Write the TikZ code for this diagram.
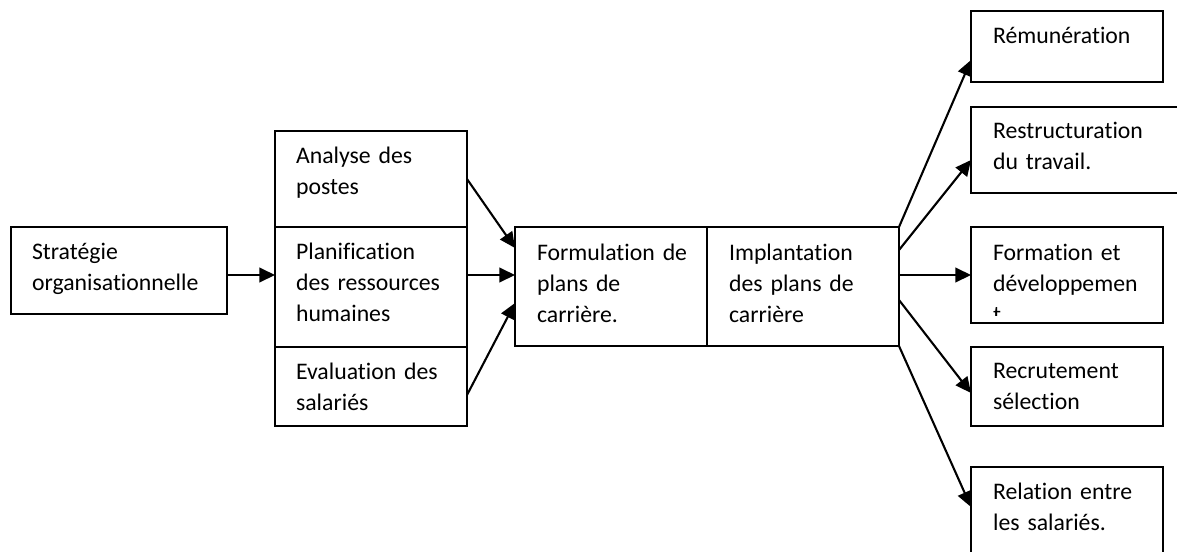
\documentclass[tikz,border=0pt]{standalone}
\usepackage{fontspec}
\setmainfont{Carlito}[Ligatures=NoCommon]
\usetikzlibrary{arrows.meta}
\newcommand{\pxu}{0.48pt}

\begin{document}
\begin{tikzpicture}[x=0.48pt, y=-0.48pt, line width=1pt]
            \tikzstyle{box} = [draw=black, anchor=north west, inner sep=0, outer sep=0]
            \tikzstyle{txt} = [anchor=base west, inner sep=0, text width=185*\pxu, align=left, font=\fontsize{11.4}{15.1}\selectfont]
            \tikzstyle{flow} = [-{Triangle[length=7.5pt, width=7pt]}]
            \clip (0,0) rectangle (1177,551);

            \node [box, minimum width=216*\pxu, minimum height=87*\pxu] (strat) at (11,227) {};

            \node [box, minimum width=192*\pxu, minimum height=96*\pxu] (analyse) at (275,131) {};
            \node [box, minimum width=192*\pxu, minimum height=120*\pxu] (planif) at (275,227) {};
            \node [box, minimum width=192*\pxu, minimum height=79*\pxu] (eval) at (275,347) {};

            \node [box, minimum width=192*\pxu, minimum height=119*\pxu] (formul) at (515,227) {};
            \node [box, minimum width=192*\pxu, minimum height=119*\pxu] (implant) at (707,227) {};

            \node [box, minimum width=192*\pxu, minimum height=71*\pxu] (remun) at (971,11) {};
            \node [box, minimum width=215*\pxu, minimum height=86*\pxu] (restruct) at (971,107) {};
            \node [box, minimum width=192*\pxu, minimum height=96*\pxu] (format) at (971,227) {};
            \node [box, minimum width=192*\pxu, minimum height=79*\pxu] (recrut) at (971,347) {};
            \node [box, minimum width=192*\pxu, minimum height=100*\pxu] (relat) at (971,467) {};

            \node [txt] (stratT) at ([shift={(20,32)}]strat.north west) {Stratégie\\organisationnelle};
            \node [txt] (analyseT) at ([shift={(20,32)}]analyse.north west) {Analyse des\\postes};
            \node [txt] (planifT) at ([shift={(20,32)}]planif.north west) {Planification\\des ressources\\humaines};
            \node [txt] (evalT) at ([shift={(20,32)}]eval.north west) {Evaluation des\\salariés};
            \node [txt] (formulT) at ([shift={(21,33)}]formul.north west) {Formulation de\\plans de\\carrière.};
            \node [txt] (implantT) at ([shift={(21,33)}]implant.north west) {Implantation\\des plans de\\carrière};
            \node [txt] (remunT) at ([shift={(21,32)}]remun.north west) {Rémunération};
            \node [txt] (restructT) at ([shift={(21,31)}]restruct.north west) {Restructuration\\du travail.};
            \begin{scope}
                \clip (format.north west) rectangle ([shift={(0,-8)}]format.south east);
                \node [txt] (formatT) at ([shift={(21,33)}]format.north west) {Formation et\\développemen\\t};
            \end{scope}
            \node [txt] (recrutT) at ([shift={(21,31)}]recrut.north west) {Recrutement\\sélection};
            \node [txt] (relatT) at ([shift={(21,32)}]relat.north west) {Relation entre\\les salariés.};

            \draw [flow] ([yshift=-4.5*\pxu]strat.east) to ([yshift=-4.5*\pxu]strat.east -| planif.west);
            \draw [flow] (analyse.east) to ([yshift=38.5*\pxu]formul.west);
            \draw [flow] ([yshift=12*\pxu]planif.east) to ([yshift=11.5*\pxu]formul.west);
            \draw [flow] ([yshift=-8.5*\pxu]eval.east) to ([yshift=-16.5*\pxu]formul.west);
            \draw [flow] (implant.north east) to ([yshift=-13.5*\pxu]remun.west);
            \draw [flow] ([yshift=36.5*\pxu]implant.east) to ([yshift=-10*\pxu]restruct.west);
            \draw [flow] ([yshift=11.5*\pxu]implant.east) to (format.west);
            \draw [flow] ([yshift=-13.5*\pxu]implant.east) to ([yshift=-6.5*\pxu]recrut.west);
            \draw [flow] (implant.south east) to ([yshift=-40*\pxu]relat.north west);
        \end{tikzpicture}
\end{document}
